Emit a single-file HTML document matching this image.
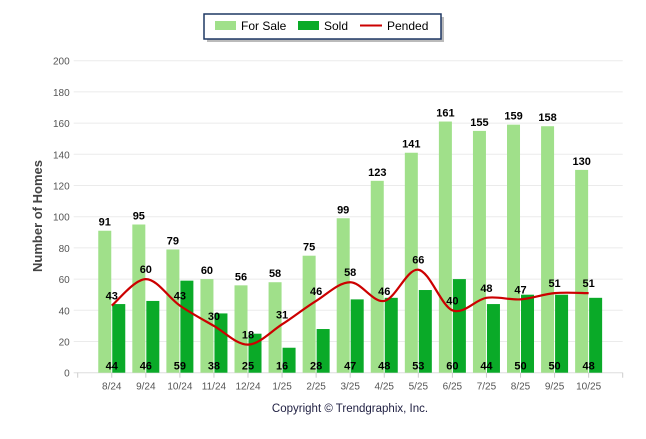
<!DOCTYPE html>
<html><head><meta charset="utf-8"><style>
body{margin:0;background:#fff;font-family:"Liberation Sans",Arial,sans-serif}
svg text{font-family:"Liberation Sans",Arial,sans-serif}
</style></head><body>
<svg id="c" width="646" height="434">
<g id="grid"></g>
<g id="bars"></g>
<path id="pline" fill="none" stroke="#cc0000" stroke-width="2.2"/>
<g id="labels"></g>
<text x="42" y="216" transform="rotate(-90 42 216)" text-anchor="middle" font-size="13" font-weight="bold" fill="#444">Number of Homes</text>
<text x="350" y="412" text-anchor="middle" font-size="11.5" fill="#224">Copyright © Trendgraphix, Inc.</text>
<g>
<rect x="207" y="17" width="237" height="25" fill="#bbb"/>
<rect x="204" y="14" width="237" height="25" fill="#fff" stroke="#1f3864" stroke-width="1.5"/>
<rect x="215" y="21" width="21" height="9" fill="#a0e08a"/>
<text x="241" y="30" font-size="12" fill="#000">For Sale</text>
<rect x="298" y="21" width="21" height="9" fill="#0aaa28"/>
<text x="324" y="30" font-size="12" fill="#000">Sold</text>
<line x1="360" y1="25.5" x2="382" y2="25.5" stroke="#cc0000" stroke-width="2"/>
<text x="387" y="30" font-size="12" fill="#000">Pended</text>
</g>
</svg>
<script>
const categories=["8/24","9/24","10/24","11/24","12/24","1/25","2/25","3/25","4/25","5/25","6/25","7/25","8/25","9/25","10/25"];
const forSale=[91,95,79,60,56,58,75,99,123,141,161,155,159,158,130];
const sold=[44,46,59,38,25,16,28,47,48,53,60,44,50,50,48];
const pended=[43,60,43,30,18,31,46,58,46,66,40,48,47,51,51];
const yTicks=[0,20,40,60,80,100,120,140,160,180,200];
const NS="http://www.w3.org/2000/svg";
const X0=77.7,X1=622.7,Y0=372.7,Y1=60.7,step=(X1-X0)/(categories.length+1);
const y=v=>Y0-(v/200)*(Y0-Y1);
const cx=i=>X0+step*(i+1);
function mk(t,a,p){const e=document.createElementNS(NS,t);for(const k in a)e.setAttribute(k,a[k]);p.appendChild(e);return e;}
const grid=document.getElementById('grid'),bars=document.getElementById('bars'),labels=document.getElementById('labels');
yTicks.forEach(v=>{
 const l=mk('line',{x1:X0-4,x2:X1,y1:y(v),y2:y(v),stroke:v===0?'#ddd':'#ebebeb'},grid);
 
 
 const t=mk('text',{x:X0-8,y:y(v)+4,'text-anchor':'end','font-size':'10',fill:'#555'},grid);t.textContent=v;
 
 
});
mk('line',{x1:X0,x2:X0,y1:Y0,y2:Y0+5,stroke:'#ccc'},grid);
mk('line',{x1:X1,x2:X1,y1:Y0,y2:Y0+5,stroke:'#ccc'},grid);
categories.forEach((c,i)=>{
 const x=cx(i);
 mk('line',{x1:x,x2:x,y1:Y0,y2:Y0+5,stroke:'#ccc'},grid);
 const t=mk('text',{x:x,y:Y0+17,'text-anchor':'middle','font-size':'10',fill:'#555'},grid);t.textContent=c;
 
 
 const b1=mk('rect',{x:x-13.5,y:y(forSale[i]),width:13,height:Y0-y(forSale[i]),fill:'#a0e08a'},bars);
 
 
 const b2=mk('rect',{x:x+0.5,y:y(sold[i]),width:13,height:Y0-y(sold[i]),fill:'#0aaa28'},bars);
 
 
 const f=mk('text',{x:x-7,y:y(forSale[i])-5,'text-anchor':'middle','font-size':'11','font-weight':'bold'},labels);f.textContent=forSale[i];
 
 
 const s=mk('text',{x:x,y:Y0-3,'text-anchor':'middle','font-size':'11','font-weight':'bold'},labels);s.textContent=sold[i];
 
 
 const p=mk('text',{x:x,y:y(pended[i])-6,'text-anchor':'middle','font-size':'11','font-weight':'bold'},labels);p.textContent=pended[i];
 
 
});
const pts=pended.map((v,i)=>[cx(i),y(v)]);
let d='M'+pts[0][0]+','+pts[0][1];
for(let i=0;i<pts.length-1;i++){
 const p0=pts[Math.max(0,i-1)],p1=pts[i],p2=pts[i+1],p3=pts[Math.min(pts.length-1,i+2)];
 const t=0.5/3*2;
 const c1=[p1[0]+(p2[0]-p0[0])*t/2,p1[1]+(p2[1]-p0[1])*t/2];
 const c2=[p2[0]-(p3[0]-p1[0])*t/2,p2[1]-(p3[1]-p1[1])*t/2];
 d+=' C'+c1+' '+c2+' '+p2;
}
document.getElementById('pline').setAttribute('d',d);
</script>
</body></html>
